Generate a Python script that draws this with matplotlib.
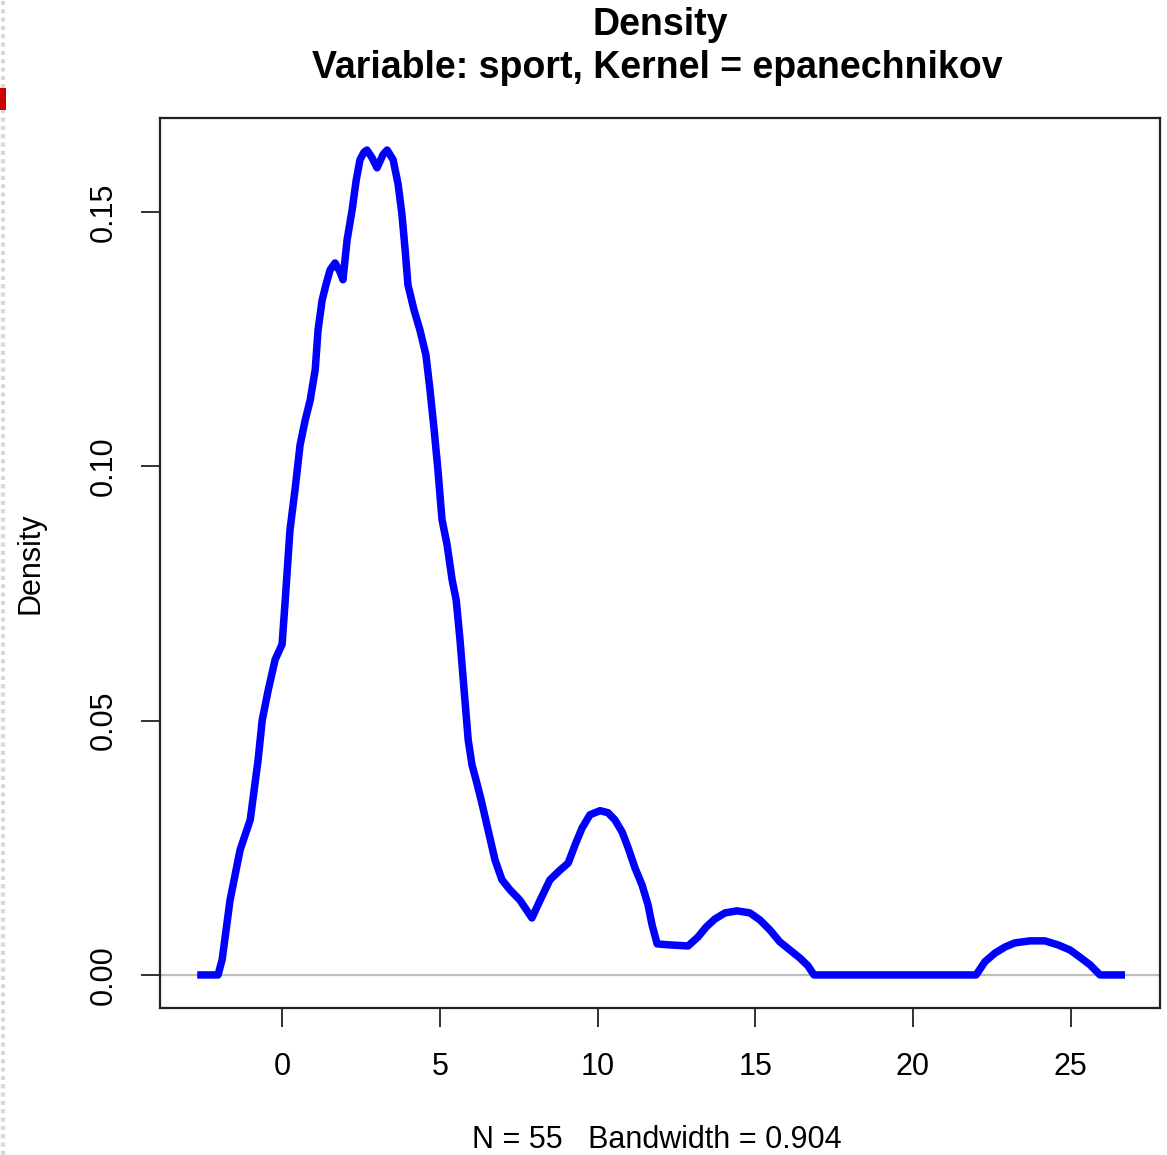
import matplotlib
matplotlib.use("Agg")
import matplotlib.pyplot as plt
from matplotlib import font_manager
from matplotlib.patches import Rectangle
from matplotlib.lines import Line2D

# ---- data ----
x_vals = [-2.69, -2.03, -1.90, -1.65, -1.33, -1.01, -0.76, -0.63, -0.44, -0.22,
          0.00, 0.10, 0.25, 0.41, 0.57, 0.73, 0.89, 1.05, 1.14, 1.27,
          1.39, 1.52, 1.68, 1.84, 1.93, 2.06, 2.22, 2.35, 2.47, 2.60,
          2.69, 2.85, 3.01, 3.20, 3.33, 3.52, 3.68, 3.80, 3.90, 3.99,
          4.18, 4.37, 4.56, 4.69, 4.82, 4.94, 5.07, 5.23, 5.39, 5.52,
          5.64, 5.77, 5.90, 6.02, 6.15, 6.31, 6.53, 6.75, 6.97, 7.23,
          7.54, 7.92, 8.18, 8.49, 8.81, 9.07, 9.29, 9.51, 9.76, 10.08,
          10.33, 10.55, 10.78, 10.97, 11.19, 11.41, 11.60, 11.73, 11.89, 12.30,
          12.87, 13.19, 13.44, 13.72, 14.04, 14.42, 14.83, 15.15, 15.47, 15.78,
          16.10, 16.42, 16.67, 16.86, 22.00, 22.28, 22.60, 22.92, 23.23, 23.71,
          24.18, 24.60, 24.98, 25.29, 25.61, 25.93, 26.72]
density_vals = [0.0, 0.0, 0.0030, 0.0147, 0.0246, 0.0305, 0.0423, 0.0501, 0.0560, 0.0620,
                0.0650, 0.0737, 0.0875, 0.0954, 0.1042, 0.1090, 0.1130, 0.1190, 0.1268, 0.1327,
                0.1357, 0.1386, 0.1400, 0.1382, 0.1367, 0.1445, 0.1504, 0.1563, 0.1603, 0.1618,
                0.1622, 0.1607, 0.1587, 0.1613, 0.1622, 0.1603, 0.1554, 0.1495, 0.1426, 0.1357,
                0.1308, 0.1268, 0.1219, 0.1150, 0.1072, 0.0993, 0.0895, 0.0846, 0.0777, 0.0737,
                0.0659, 0.0560, 0.0462, 0.0413, 0.0383, 0.0344, 0.0285, 0.0226, 0.0187, 0.0167,
                0.0147, 0.0112, 0.0147, 0.0187, 0.0206, 0.0220, 0.0256, 0.0289, 0.0315, 0.0323,
                0.0319, 0.0305, 0.0281, 0.0250, 0.0210, 0.0177, 0.0138, 0.0098, 0.0061, 0.0059,
                0.0057, 0.0075, 0.0094, 0.0110, 0.0122, 0.0126, 0.0122, 0.0108, 0.0088, 0.0065,
                0.0049, 0.0033, 0.0018, 0.0, 0.0, 0.0026, 0.0043, 0.0055, 0.0063, 0.0067,
                0.0067, 0.0059, 0.0049, 0.0035, 0.0020, 0.0, 0.0]

x_ticks = [0, 5, 10, 15, 20, 25]
y_ticks = [0.00, 0.05, 0.10, 0.15]
y_tick_labels = ["0.00", "0.05", "0.10", "0.15"]
title_line1 = "Density"
title_line2 = "Variable: sport, Kernel = epanechnikov"
x_label = "N = 55   Bandwidth = 0.904"
y_label = "Density"

# ---- fonts ----
names = {f.name for f in font_manager.fontManager.ttflist}
if "Liberation Sans Narrow" in names:
    lab_family = ["Liberation Sans Narrow", "Liberation Sans", "DejaVu Sans"]
    lab_size = 26
else:
    lab_family = ["Liberation Sans", "DejaVu Sans"]
    lab_size = 22
title_family = ["Liberation Sans", "DejaVu Sans"]

W, H = 1167, 1155
fig = plt.figure(figsize=(W / 100, H / 100), dpi=100)
fig.patch.set_facecolor("white")

ax = fig.add_axes([160 / W, 1 - 1008 / H, 1000 / W, 890 / H])
ax.axhline(0, color="#bebebe", lw=1.6, zorder=1)
ax.plot(x_vals, density_vals, color="#0000ff", lw=5.4, solid_joinstyle="round",
        solid_capstyle="butt", zorder=3)

ax.set_xlim(-3.87, 27.83)
ax.set_ylim(-0.0065, 0.1685)

ax.set_xticks(x_ticks)
ax.set_xticklabels([str(t) for t in x_ticks], family=lab_family, fontsize=lab_size)
ax.set_yticks(y_ticks)
ax.set_yticklabels(y_tick_labels, family=lab_family, fontsize=lab_size,
                   rotation=90, va="center")
ax.tick_params(axis="x", length=14, width=1.3, pad=18, color="#222222")
ax.tick_params(axis="y", length=14, width=1.3, pad=16, color="#222222")
for s in ax.spines.values():
    s.set_linewidth(1.6)
    s.set_color("#222222")

fig.text(660 / W, 1 - 25 / H, title_line1, ha="center", va="center",
         fontsize=27, fontweight="bold", family=title_family)
fig.text(657 / W, 1 - 68 / H, title_line2, ha="center",
         va="center", fontsize=27, fontweight="bold", family=title_family)
fig.text(657 / W, 1 - 1140 / H, x_label, ha="center", va="center",
         fontsize=lab_size, family=lab_family)
fig.text(30 / W, 1 - 563 / H, y_label, ha="center", va="center", rotation=90,
         fontsize=lab_size, family=lab_family)

# screenshot edge artifacts
fig.add_artist(Line2D([2.5 / W, 2.5 / W], [0, 1], color="#d8d8d8", lw=3,
                      linestyle=(0, (1, 1)), transform=fig.transFigure, zorder=1))
fig.add_artist(Rectangle((0, 1 - 110 / H), 6 / W, 22 / H, facecolor="#cc0000",
                         edgecolor="none", transform=fig.transFigure, zorder=5))

fig.savefig("out.png", dpi=100, facecolor="white")
